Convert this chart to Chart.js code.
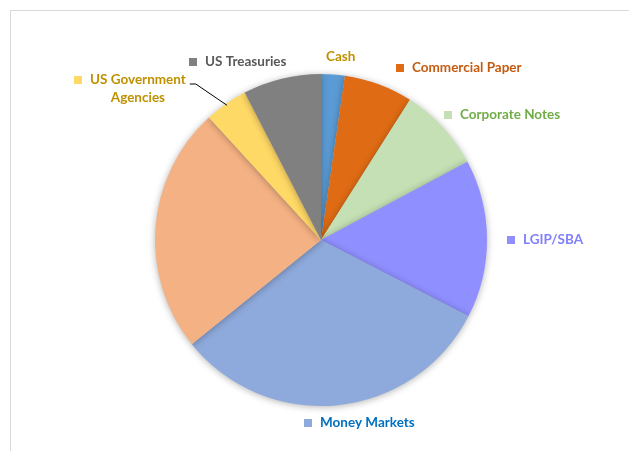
<!DOCTYPE html>
<html>
<head>
<meta charset="utf-8">
<script src="https://cdn.jsdelivr.net/npm/chart.js@4/dist/chart.umd.min.js"></script>
<style>
  body { margin: 0; background: #fff; }
  canvas { display: block; }
</style>
</head>
<body>
<canvas id="portfolio" width="629" height="451"></canvas>
<script>
// categories and share of portfolio (%)
const categories = ['Cash', 'Commercial Paper', 'Corporate Notes', 'LGIP/SBA', 'Money Markets', '', 'US Government Agencies', 'US Treasuries'];
const shares = [2.3, 6.7, 8.2, 15.4, 31.6, 24.0, 4.2, 7.6];
const sliceColors = ['#5B9BD5', '#DF6C14', '#C5E0B4', '#8F8FFF', '#8EA9DB', '#F4B183', '#FFD966', '#808080'];
const labelColors = ['#BF9000', '#C55A11', '#70AD47', '#7F7FFF', '#0070C0', '#000', '#BF9000', '#595959'];

// where the labels sit (Excel style, outside the pie)
const labelSpots = [
  { x: 326, y: 57, marker: false },
  { x: 412, y: 68 },
  { x: 460, y: 115 },
  { x: 523, y: 240 },
  { x: 320, y: 423 },
  null,
  { x: 90, y: 80, lines: ['US Government', 'Agencies'] },
  { x: 205, y: 62 }
];

const frame = {
  id: 'frame',
  beforeDraw(chart) {
    const ctx = chart.ctx;
    ctx.save();
    ctx.strokeStyle = '#d9d9d9';
    ctx.lineWidth = 1;
    ctx.strokeRect(10.5, 10.5, 700, 500);
    ctx.restore();
  }
};

const pieShadow = {
  id: 'pieShadow',
  beforeDatasetDraw(chart) {
    const ctx = chart.ctx;
    ctx.save();
    ctx.shadowColor = 'rgba(0,0,0,0.3)';
    ctx.shadowBlur = 7;
    ctx.shadowOffsetX = 0;
    ctx.shadowOffsetY = 1;
  },
  afterDatasetDraw(chart) {
    chart.ctx.restore();
  }
};

const outsideLabels = {
  id: 'outsideLabels',
  afterDraw(chart) {
    const ctx = chart.ctx;
    const arcs = chart.getDatasetMeta(0).data;
    ctx.save();
    ctx.font = 'bold 13.5px Lato';
    ctx.textBaseline = 'middle';
    labelSpots.forEach((spot, i) => {
      if (!spot) return;
      const lines = spot.lines || [categories[i]];
      if (spot.marker !== false) {
        ctx.fillStyle = sliceColors[i];
        ctx.fillRect(spot.x - 16, spot.y - 4, 8, 8);
      }
      ctx.fillStyle = labelColors[i];
      const w0 = ctx.measureText(lines[0]).width;
      ctx.textAlign = 'left';
      ctx.fillText(lines[0], spot.x, spot.y);
      for (let k = 1; k < lines.length; k++) {
        ctx.textAlign = 'center';
        ctx.fillText(lines[k], spot.x + w0 / 2, spot.y + 18 * k);
      }
      if (spot.lines) {
        // leader line to the slice
        const a = arcs[i];
        const mid = (a.startAngle + a.endAngle) / 2;
        const ex = a.x + Math.cos(mid) * a.outerRadius * 0.99;
        const ey = a.y + Math.sin(mid) * a.outerRadius * 0.99;
        ctx.strokeStyle = '#000';
        ctx.lineWidth = 1;
        ctx.beginPath();
        ctx.moveTo(spot.x + w0 + 4, spot.y + 4);
        ctx.lineTo(spot.x + w0 + 10, spot.y + 4);
        ctx.lineTo(ex, ey);
        ctx.stroke();
      }
    });
    ctx.restore();
  }
};

new Chart(document.getElementById('portfolio').getContext('2d'), {
  type: 'pie',
  data: {
    labels: categories,
    datasets: [{
      data: shares,
      backgroundColor: sliceColors,
      borderWidth: 0
    }]
  },
  options: {
    responsive: false,
    animation: false,
    layout: { padding: { top: 74, bottom: 45, left: 155, right: 142 } },
    plugins: {
      legend: { display: false },
      tooltip: { enabled: false }
    }
  },
  plugins: [frame, pieShadow, outsideLabels]
});
</script>
</body>
</html>
